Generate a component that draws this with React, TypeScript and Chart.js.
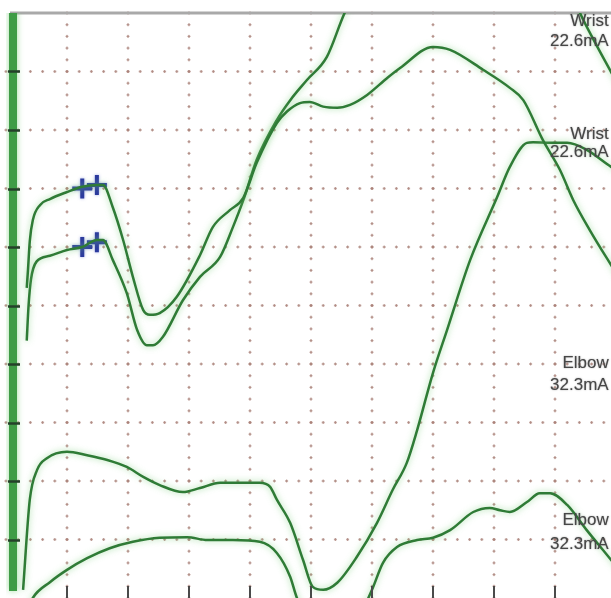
import { useEffect, useRef } from "react";
import { Chart, registerables } from "chart.js";

Chart.register(...registerables);

// Sweep: 10 divisions (ms), amplitude: 10 divisions
const sweepRange = [0, 10];
const ampRange = [0, 10];
const gridTimes = [1, 2, 3, 4, 5, 6, 7, 8, 9];
const gridAmps = [1, 2, 3, 4, 5, 6, 7, 8, 9];

// Stimulus artifact (vertical spike at stimulation time)
const artifact: [number, number][] = [
  [0.115, 10.3],
  [0.115, 0.12],
];

// Wrist stimulation, trace 1 (shallower rise, broad peak)
const wrist1: [number, number][] = [
  [0.34, 5.3], [0.36, 5.6], [0.39, 6.1], [0.44, 6.46], [0.56, 6.72], [0.72, 6.82], [1.0, 6.94],
  [1.25, 7.03], [1.49, 7.06], [1.59, 7.06], [1.75, 6.68], [1.92, 6.12], [2.08, 5.49],
  [2.25, 4.92], [2.36, 4.84], [2.52, 4.87], [2.8, 5.15], [3.18, 5.86], [3.39, 6.34],
  [3.67, 6.63], [3.89, 6.84], [4.11, 7.44], [4.44, 8.12], [4.61, 8.32], [4.82, 8.46],
  [4.98, 8.48], [5.2, 8.4], [5.43, 8.38], [5.64, 8.43], [5.92, 8.6], [6.25, 8.89],
  [6.46, 9.06], [7.0, 9.42], [7.28, 9.37], [7.82, 9.03], [8.26, 8.72], [8.48, 8.51],
  [8.8, 7.83], [9.08, 7.32], [9.3, 6.8], [9.57, 6.29], [9.92, 5.69], [10.07, 5.44],
];

// Wrist stimulation, trace 2 (steep rise, peak off screen)
const wrist2: [number, number][] = [
  [0.34, 4.4], [0.37, 5.0], [0.41, 5.45], [0.5, 5.75], [0.72, 5.85], [1.0, 5.95], [1.25, 6.0],
  [1.49, 6.12], [1.59, 6.12], [1.75, 5.78], [1.98, 5.21], [2.15, 4.58], [2.31, 4.32],
  [2.41, 4.32], [2.57, 4.46], [2.9, 5.09], [3.18, 5.49], [3.51, 5.83], [3.72, 6.34],
  [3.89, 6.8], [4.11, 7.49], [4.44, 8.17], [4.66, 8.51], [4.93, 8.85], [5.26, 9.25],
  [5.56, 10.02], [6.46, 11.59], [7.61, 12.1], [8.75, 11.25], [9.16, 10.65], [9.41, 10.0],
  [9.66, 9.49], [9.92, 8.99], [10.07, 8.7],
];

// Elbow stimulation, trace 1
const elbow1: [number, number][] = [
  [0.28, 0.14], [0.39, 1.68], [0.51, 2.19], [0.67, 2.39], [1.0, 2.5], [1.33, 2.44],
  [1.66, 2.36], [1.98, 2.24], [2.25, 2.07], [2.52, 1.93], [2.9, 1.81], [3.18, 1.88],
  [3.51, 1.97], [4.16, 1.97], [4.33, 1.9], [4.44, 1.68], [4.66, 1.28], [4.87, 0.65],
  [5.03, 0.19], [5.2, 0.14], [5.43, 0.26], [5.75, 0.7], [6.08, 1.28], [6.34, 1.85],
  [6.57, 2.31], [6.74, 2.87], [7.0, 3.85], [7.23, 4.58], [7.61, 5.78], [8.05, 6.85],
  [8.26, 7.37], [8.54, 7.78], [8.64, 7.79], [8.92, 7.78], [9.2, 7.78], [9.52, 7.66],
  [9.92, 7.37], [10.07, 7.28],
];

// Elbow stimulation, trace 2
const elbow2: [number, number][] = [
  [0.36, -0.2], [0.44, 0.0], [0.72, 0.27], [1.0, 0.48], [1.33, 0.68], [1.7, 0.85],
  [2.08, 0.96], [2.52, 1.03], [2.97, 1.04], [3.3, 0.99], [3.72, 0.99], [4.16, 0.96],
  [4.44, 0.77], [4.66, 0.36], [4.77, 0.0], [5.07, -0.46], [5.48, -0.63], [5.8, -0.29],
  [6.0, 0.14], [6.18, 0.6], [6.41, 0.87], [6.74, 0.99], [7.0, 1.03], [7.28, 1.16],
  [7.66, 1.47], [7.93, 1.54], [8.1, 1.5], [8.26, 1.47], [8.54, 1.64], [8.75, 1.79],
  [8.92, 1.79], [9.2, 1.59], [9.52, 1.16], [9.92, 0.65], [10.07, 0.45],
];

// Onset markers
const markers: [number, number][] = [
  [1.25, 7.0], [1.49, 7.06], [1.25, 6.0], [1.49, 6.08],
];

// Trace labels (right aligned)
const labelTexts = ["Wrist", "22.6mA", "Wrist", "22.6mA", "Elbow", "32.3mA", "Elbow", "32.3mA"];
const labelX = 9.88;
const labelY = [9.86, 9.52, 7.93, 7.62, 4.02, 3.64, 1.32, 0.91];

const traceColor = "#2f7b36";
const artifactColor = "#3f9c46";
const markerColor = "#2c3a9e";
const gridColor = "rgba(170,128,120,0.7)";

const toPts = (a: [number, number][]) => a.map(([x, y]) => ({ x, y }));

const decorPlugin = {
  id: "decor",
  beforeDatasetsDraw(chart: any) {
    const { ctx, chartArea: a, scales } = chart;
    const xs = scales.x;
    const ys = scales.y;
    ctx.save();
    ctx.fillStyle = "#ffffff";
    ctx.fillRect(0, 0, chart.width, chart.height);
    ctx.fillStyle = gridColor;
    for (const gx of gridTimes) {
      const px = xs.getPixelForValue(gx);
      for (let k = 0; k <= 50; k++) {
        const py = ys.getPixelForValue(k * 0.2);
        ctx.fillRect(px - 0.8, py - 1.5, 1.6, 3);
        ctx.fillRect(px - 1.5, py - 0.6, 3, 1.2);
      }
    }
    for (const gy of gridAmps) {
      const py = ys.getPixelForValue(gy);
      for (let k = 0; k <= 50; k++) {
        const px = xs.getPixelForValue(k * 0.2);
        ctx.fillRect(px - 1.5, py - 0.8, 3, 1.6);
        ctx.fillRect(px - 0.6, py - 1.5, 1.2, 3);
      }
    }
    // top border
    ctx.fillStyle = "#a9a9a9";
    ctx.fillRect(a.left + 4, a.top - 1.5, a.right - a.left, 3);
    ctx.restore();
  },
  afterDatasetsDraw(chart: any) {
    const { ctx, chartArea: a, scales } = chart;
    const xs = scales.x;
    const ys = scales.y;
    ctx.save();
    ctx.strokeStyle = "#24402a";
    ctx.lineWidth = 2.5;
    for (const gy of gridAmps) {
      const py = Math.round(ys.getPixelForValue(gy)) + 0.5;
      ctx.beginPath();
      ctx.moveTo(a.left + 2, py);
      ctx.lineTo(a.left + 14, py);
      ctx.stroke();
    }
    ctx.strokeStyle = "#4a4a4a";
    ctx.lineWidth = 2;
    for (const gx of gridTimes) {
      const px = Math.round(xs.getPixelForValue(gx));
      ctx.beginPath();
      ctx.moveTo(px, a.bottom - 12);
      ctx.lineTo(px, a.bottom);
      ctx.stroke();
    }
    ctx.fillStyle = "#474747";
    ctx.shadowColor = "rgba(70,70,70,0.6)";
    ctx.shadowBlur = 1.5;
    ctx.font = "17px 'Liberation Sans', Arial, sans-serif";
    ctx.textAlign = "right";
    ctx.textBaseline = "middle";
    labelTexts.forEach((t, i) => {
      ctx.fillText(t, xs.getPixelForValue(labelX), ys.getPixelForValue(labelY[i]));
    });
    ctx.restore();
  },
  beforeDatasetDraw(chart: any, args: any) {
    const ds = chart.data.datasets[args.index];
    const ctx = chart.ctx;
    ctx.save();
    if (ds.label === "markers") {
      ctx.shadowColor = "rgba(60,80,200,0.5)";
      ctx.shadowBlur = 3;
    } else {
      ctx.shadowColor = "rgba(120,205,120,0.7)";
      ctx.shadowBlur = 6;
    }
  },
  afterDatasetDraw(chart: any) {
    chart.ctx.restore();
  },
};

export default function App() {
  const ref = useRef<HTMLCanvasElement | null>(null);
  useEffect(() => {
    if (!ref.current) return;
    const lineDs = (label: string, d: [number, number][]) => ({
      label,
      data: toPts(d),
      borderColor: traceColor,
      borderWidth: 2.5,
      pointRadius: 0,
      fill: false,
      tension: 0.4,
      cubicInterpolationMode: "monotone" as const,
    });
    const chart = new Chart(ref.current, {
      type: "line",
      data: {
        datasets: [
          {
            label: "artifact",
            data: toPts(artifact),
            borderColor: artifactColor,
            borderWidth: 8,
            pointRadius: 0,
            tension: 0,
            fill: false,
          },
          lineDs("Wrist 1", wrist1),
          lineDs("Wrist 2", wrist2),
          lineDs("Elbow 1", elbow1),
          lineDs("Elbow 2", elbow2),
          {
            label: "markers",
            type: "scatter",
            data: toPts(markers),
            pointStyle: "cross",
            pointRadius: 10,
            pointBorderWidth: 4,
            borderColor: markerColor,
            backgroundColor: markerColor,
            showLine: false,
          } as any,
        ],
      },
      options: {
        animation: false,
        responsive: false,
        devicePixelRatio: 1,
        layout: { autoPadding: false, padding: { left: 6, top: 13, right: 4, bottom: 0 } },
        plugins: { legend: { display: false }, tooltip: { enabled: false } },
        events: [],
        scales: {
          x: { type: "linear", display: false, min: sweepRange[0], max: sweepRange[1] },
          y: { type: "linear", display: false, min: ampRange[0], max: ampRange[1] },
        },
      },
      plugins: [decorPlugin],
    });
    return () => chart.destroy();
  }, []);
  return (
    <div
      style={{
        position: "fixed",
        left: 0,
        top: 0,
        width: 611,
        height: 598,
        overflow: "hidden",
        background: "#fff",
      }}
    >
      <canvas ref={ref} width={620} height={598} style={{ display: "block", width: 620, height: 598 }} />
    </div>
  );
}
